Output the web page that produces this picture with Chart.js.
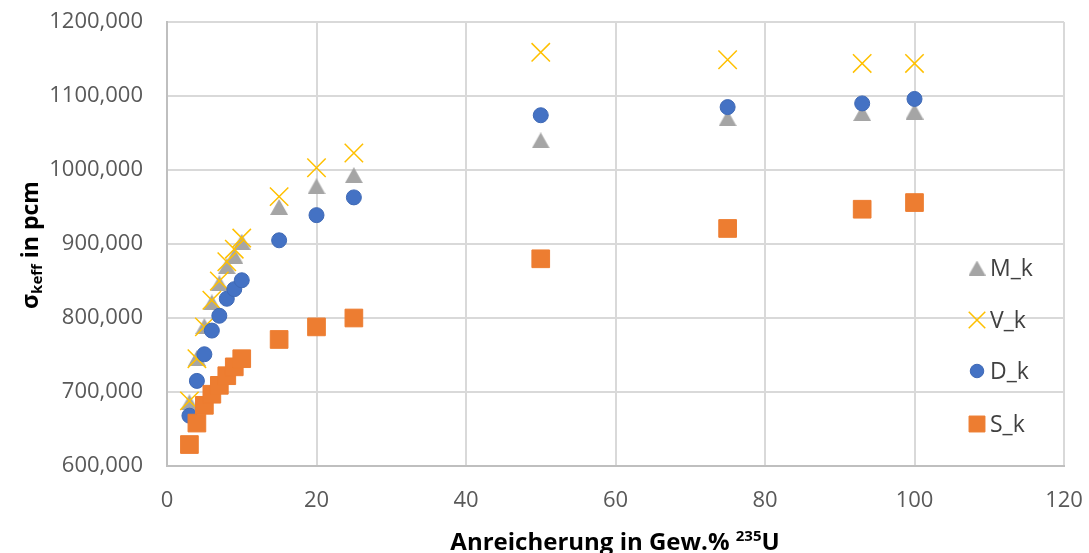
<!DOCTYPE html>
<html>
<head>
<meta charset="utf-8">
<script src="https://cdn.jsdelivr.net/npm/chart.js@4"></script>
<style>
  body { margin: 0; background: #fff; }
  #wrap { width: 1089px; height: 553px; position: relative; }
</style>
</head>
<body>
<div id="wrap"><canvas id="chart"></canvas></div>
<script>
// enrichment in Gew.% U-235
const enrichment = [3, 4, 5, 6, 7, 8, 9, 10, 15, 20, 25, 50, 75, 93, 100];

// sigma keff values in pcm
const mK = [686, 746, 789, 821, 847, 870, 884, 903, 950, 978, 993, 1040, 1070, 1077, 1079];
const vK = [688, 745, 788, 824, 850, 876, 893, 908, 964, 1003, 1023, 1159, 1149, 1144, 1144];
const dK = [668, 715, 751, 783, 803, 826, 839, 851, 905, 939, 963, 1074, 1085, 1090, 1096];
const sK = [629, 658, 682, 697, 709, 722, 734, 745, 771, 788, 800, 880, 921, 947, 956];

const seriesNames = ['M_k', 'V_k', 'D_k', 'S_k'];
const xTicks = [0, 20, 40, 60, 80, 100, 120];
const yTicks = [600, 700, 800, 900, 1000, 1100, 1200];

const FONT = "'Open Sans', sans-serif";
const TXT = '#595959';
const GRID = '#D9D9D9';

function pts(vals) {
  return enrichment.map((x, i) => ({ x: x, y: vals[i] }));
}

// excel style triangle, centred on its bounding box
function triangleMarker(w, h, color) {
  const c = document.createElement('canvas');
  c.width = w; c.height = h;
  const g = c.getContext('2d');
  g.fillStyle = color;
  g.beginPath();
  g.moveTo(w / 2, 0);
  g.lineTo(w, h);
  g.lineTo(0, h);
  g.closePath();
  g.fill();
  return c;
}
const triBig = triangleMarker(18, 16, '#A5A5A5');
const triSmall = triangleMarker(17, 15, '#A5A5A5');

const datasets = [
  { label: seriesNames[0], data: pts(mK), pointStyle: triBig, pointRadius: 10,
    backgroundColor: '#A5A5A5', borderColor: '#A5A5A5', borderWidth: 1, order: 4 },
  { label: seriesNames[1], data: pts(vK), pointStyle: 'crossRot', pointRadius: 13,
    backgroundColor: '#FFC000', borderColor: '#FFC000', borderWidth: 1.5, order: 3 },
  { label: seriesNames[2], data: pts(dK), pointStyle: 'circle', pointRadius: 7.5,
    backgroundColor: '#4472C4', borderColor: '#3F69B5', borderWidth: 1, order: 2 },
  { label: seriesNames[3], data: pts(sK), pointStyle: 'rect', pointRadius: 12.5,
    backgroundColor: '#ED7D31', borderColor: '#ED7D31', borderWidth: 1, order: 1 }
];

// legend + axis titles drawn on top of the plot area
const overlay = {
  id: 'overlay',
  afterDraw(chart) {
    const ctx = chart.ctx;
    ctx.save();

    // legend
    const lx = 977, ly = [268, 320, 371, 424];
    datasets.forEach((ds, i) => {
      ctx.fillStyle = ds.backgroundColor;
      ctx.strokeStyle = ds.borderColor;
      ctx.lineWidth = ds.borderWidth;
      const style = i === 0 ? triSmall : ds.pointStyle;
      Chart.helpers.drawPoint(ctx, { pointStyle: style,
        radius: ds.pointRadius * 0.9, rotation: 0, borderWidth: ds.borderWidth }, lx, ly[i]);
      ctx.fillStyle = '#404040';
      ctx.font = '23px ' + FONT;
      ctx.textBaseline = 'middle';
      ctx.textAlign = 'left';
      ctx.fillText(ds.label, lx + 13, ly[i] + 1);
    });

    // x axis title
    ctx.fillStyle = '#000';
    ctx.textBaseline = 'alphabetic';
    const big = 'bold 24px ' + FONT, small = 'bold 15px ' + FONT;
    const p1 = 'Anreicherung in Gew.% ', p2 = '235', p3 = 'U';
    ctx.font = big; const w1 = ctx.measureText(p1).width, w3 = ctx.measureText(p3).width;
    ctx.font = small; const w2 = ctx.measureText(p2).width;
    let x0 = 615 - (w1 + w2 + w3) / 2, by = 550;
    ctx.font = big; ctx.fillText(p1, x0, by);
    ctx.font = small; ctx.fillText(p2, x0 + w1, by - 9);
    ctx.font = big; ctx.fillText(p3, x0 + w1 + w2, by);

    // y axis title (rotated)
    const ybig = 'bold 23px ' + FONT;
    ctx.translate(38, 245);
    ctx.rotate(-Math.PI / 2);
    const q1 = '\u03C3', q2 = 'keff', q3 = ' in pcm';
    ctx.font = ybig; const v1 = ctx.measureText(q1).width, v3 = ctx.measureText(q3).width;
    ctx.font = small; const v2 = ctx.measureText(q2).width;
    let y0 = -(v1 + v2 + v3) / 2;
    ctx.font = ybig; ctx.fillText(q1, y0, 0);
    ctx.font = small; ctx.fillText(q2, y0 + v1, 4);
    ctx.font = ybig; ctx.fillText(q3, y0 + v1 + v2, 0);

    ctx.restore();
  }
};

new Chart(document.getElementById('chart'), {
  type: 'scatter',
  data: { datasets: datasets },
  options: {
    responsive: true,
    maintainAspectRatio: false,
    animation: false,
    layout: { padding: { top: 22, right: 25, bottom: 0, left: 0 } },
    plugins: { legend: { display: false }, tooltip: { enabled: false } },
    scales: {
      x: {
        type: 'linear', min: 0, max: 120,
        afterFit(scale) { scale.height = 87; scale.paddingLeft = 0; scale.paddingRight = 0; },
        afterBuildTicks(scale) { scale.ticks = xTicks.map(v => ({ value: v })); },
        ticks: { color: TXT, font: { family: FONT, size: 22 }, padding: 22, maxRotation: 0 },
        grid: { color: GRID, lineWidth: 2, drawTicks: false },
        border: { color: '#BFBFBF', width: 2 }
      },
      y: {
        type: 'linear', min: 600, max: 1200,
        afterFit(scale) { scale.width = 167; scale.paddingTop = 0; scale.paddingBottom = 0; },
        afterBuildTicks(scale) { scale.ticks = yTicks.map(v => ({ value: v })); },
        ticks: {
          color: TXT, font: { family: FONT, size: 22 }, padding: 24,
          callback: v => v.toFixed(3).replace('.', ',')
        },
        grid: { color: GRID, lineWidth: 2, drawTicks: false },
        border: { color: '#BFBFBF', width: 2 }
      }
    }
  },
  plugins: [overlay]
});
</script>
</body>
</html>
